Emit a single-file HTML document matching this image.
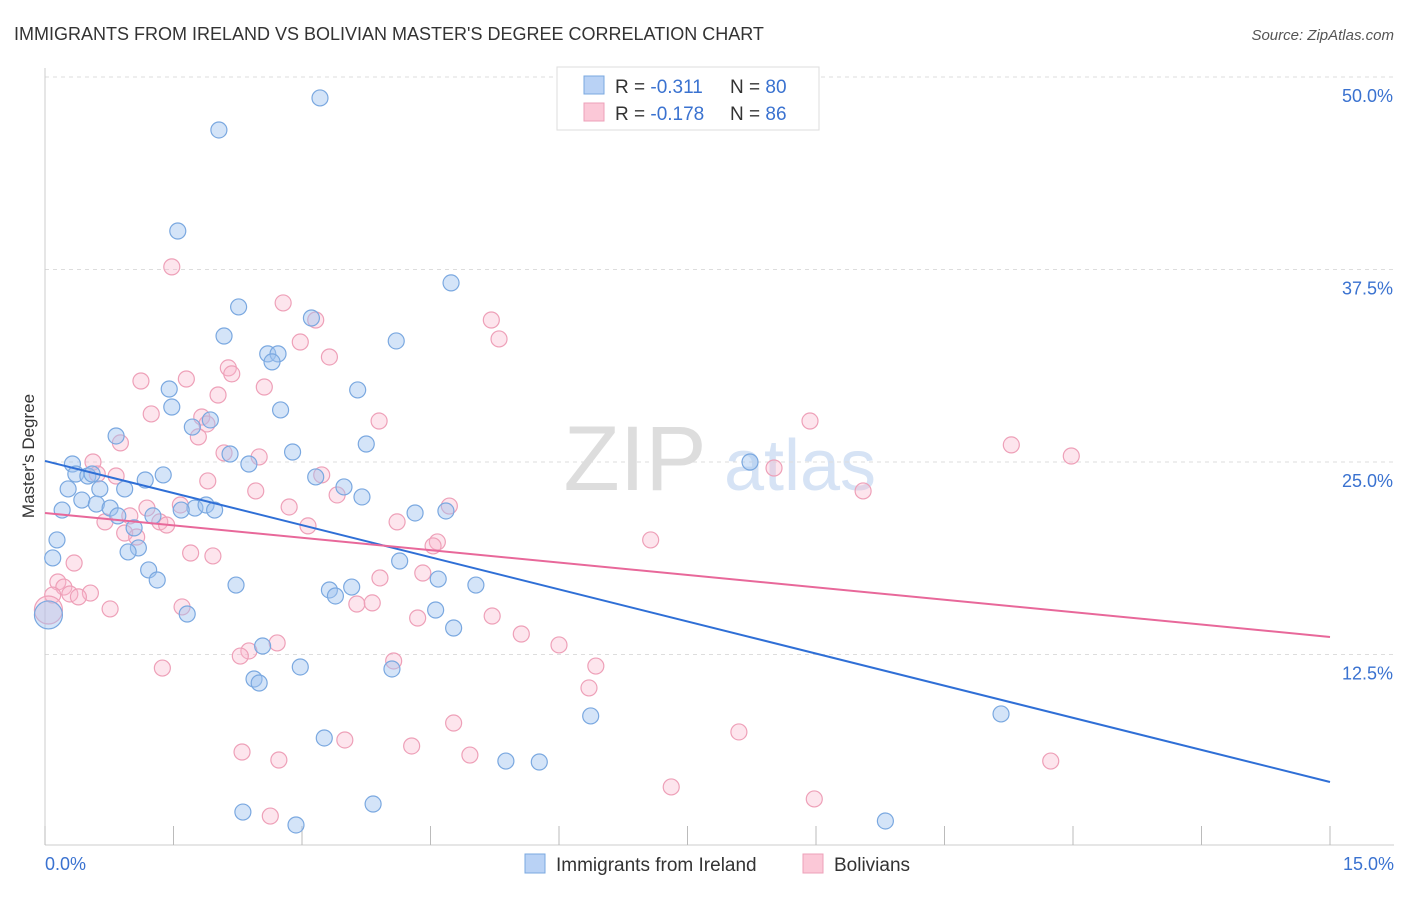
<!DOCTYPE html>
<html><head><meta charset="utf-8"><style>
body{margin:0;background:#fff;font-family:"Liberation Sans",sans-serif;}
svg text{font-family:"Liberation Sans",sans-serif;}
</style></head><body>
<svg id="chart" width="1406" height="892" xmlns="http://www.w3.org/2000/svg">
<text x="14" y="40" font-size="18" fill="#333">IMMIGRANTS FROM IRELAND VS BOLIVIAN MASTER'S DEGREE CORRELATION CHART</text>
<text x="1394" y="40" font-size="15" fill="#555" text-anchor="end" font-style="italic">Source: ZipAtlas.com</text>
<g>
<text x="635" y="490" font-size="92" fill="#ddd" text-anchor="middle" font-family="Liberation Serif">ZIP</text>
<text x="800" y="490" font-size="72" fill="#d6e3f5" text-anchor="middle">atlas</text>
</g>
<g id="grid"></g>
<g id="axes"></g>
<g id="marks"></g>
<text transform="translate(34,456) rotate(-90)" font-size="17" fill="#333" text-anchor="middle">Master's Degree</text>
<g>
<rect x="557" y="67" width="262" height="63" fill="#fff" stroke="#ddd"/>
<rect x="584" y="76" width="20" height="18" fill="#b9d2f5" stroke="#7aa8e0"/>
<rect x="584" y="103" width="20" height="18" fill="#fbc8d7" stroke="#eea0b8"/>
<text x="615" y="93" font-size="19" fill="#333">R = <tspan fill="#3a72d0">-0.311</tspan><tspan x="730">N = </tspan><tspan fill="#3a72d0">80</tspan></text>
<text x="615" y="120" font-size="19" fill="#333">R = <tspan fill="#3a72d0">-0.178</tspan><tspan x="730">N = </tspan><tspan fill="#3a72d0"> 86</tspan></text>
</g>
<g>
<rect x="525" y="854" width="20" height="19" fill="#b9d2f5" stroke="#7aa8e0"/>
<text x="556" y="871" font-size="19" fill="#333">Immigrants from Ireland</text>
<rect x="803" y="854" width="20" height="19" fill="#fbc8d7" stroke="#eea0b8"/>
<text x="834" y="871" font-size="19" fill="#333">Bolivians</text>
</g>
</svg>
<script>
const blueX=[3.21,2.03,1.55,4.74,2.26,2.09,3.11,4.10,2.60,2.72,2.65,1.45,3.65,1.48,2.75,1.93,1.72,0.83,3.75,2.16,2.89,2.38,0.32,0.36,0.50,0.55,1.17,1.38,8.23,0.27,0.64,0.93,3.16,3.49,3.70,0.43,0.60,0.76,0.20,1.75,1.88,1.98,1.59,1.26,0.85,4.32,4.68,1.04,0.14,0.09,1.09,0.97,1.21,4.14,1.31,2.23,3.32,3.58,3.39,4.59,5.03,4.56,1.66,4.77,2.54,2.98,4.05,2.44,2.50,6.37,11.16,3.26,5.38,5.77,3.83,2.31,2.93,9.81,0.04];
const blueY=[48.64,46.56,40.00,36.63,35.07,33.18,34.35,32.86,32.02,32.02,31.50,29.74,29.68,28.57,28.38,27.73,27.27,26.69,26.17,25.52,25.65,24.87,24.87,24.22,24.09,24.22,23.83,24.16,25.00,23.25,23.25,23.25,24.03,23.38,22.73,22.53,22.27,22.01,21.88,22.01,22.21,21.88,21.88,21.50,21.50,21.69,21.82,20.72,19.94,18.77,19.42,19.16,17.99,18.57,17.34,17.01,16.69,16.88,16.30,17.40,17.01,15.39,15.13,14.22,13.05,11.69,11.56,10.91,10.65,8.51,8.64,7.08,5.58,5.52,2.79,2.27,1.43,1.69,15.07];
const pinkX=[1.48,2.78,5.21,3.16,5.30,2.98,3.32,2.14,2.18,1.12,1.65,2.56,2.02,1.24,3.90,8.93,1.83,1.89,1.79,0.88,2.09,2.50,11.28,11.98,0.56,8.51,0.61,0.83,3.23,1.90,2.46,9.55,2.85,1.58,1.19,4.72,3.41,0.70,0.99,1.34,1.42,4.11,3.07,0.93,1.07,4.58,4.53,7.07,1.70,1.96,0.34,0.15,0.22,0.09,0.29,0.53,0.39,3.91,4.41,0.76,1.60,3.64,3.82,4.35,5.22,5.56,6.00,2.71,2.38,2.28,4.07,6.43,1.37,6.35,4.77,8.10,3.50,4.28,2.30,4.96,2.73,11.74,7.31,8.98,2.63,0.04];
const pinkY=[37.67,35.33,34.22,34.22,32.99,32.79,31.82,31.11,30.72,30.26,30.39,29.87,29.35,28.12,27.66,27.66,27.92,27.47,26.63,26.24,25.59,25.33,26.11,25.39,25.00,24.61,24.22,24.09,24.16,23.77,23.12,23.12,22.08,22.21,22.01,22.14,22.86,21.11,21.50,21.11,20.91,21.11,20.85,20.39,20.13,19.81,19.55,19.94,19.09,18.90,18.44,17.21,16.88,16.36,16.43,16.49,16.24,17.47,17.79,15.46,15.59,15.78,15.85,14.87,15.00,13.83,13.12,13.25,12.73,12.40,12.08,11.75,11.62,10.33,8.05,7.47,6.95,6.56,6.17,5.97,5.65,5.58,3.90,3.12,2.01,15.39];
const blueTrend=[25.07,4.22];
const pinkTrend=[21.69,13.64];
const yTicks=[12.5,25,37.5,50];
const yTickLabels=["12.5%","25.0%","37.5%","50.0%"];
const xTicks=[0,1.5,3,4.5,6,7.5,9,10.5,12,13.5,15];

const NS="http://www.w3.org/2000/svg";
const X0=45,X1=1330,YB=847,PXPER=192.5/12.5;
function sx(v){return X0+(v/15)*(X1-X0);}
function sy(v){return YB-v*PXPER;}
function mk(tag,attrs,parent){const e=document.createElementNS(NS,tag);for(const k in attrs)e.setAttribute(k,attrs[k]);parent.appendChild(e);return e;}
const grid=document.getElementById('grid'),axes=document.getElementById('axes'),marks=document.getElementById('marks');
yTicks.forEach((t,i)=>{
  const l=mk('line',{x1:X0,x2:1394,y1:sy(t),y2:sy(t),stroke:'#ddd','stroke-dasharray':'4,4'},grid);
  
  
  const tx=mk('text',{x:1393,y:sy(t)+25,'font-size':18,fill:'#3a72d0','text-anchor':'end'},axes);
  tx.textContent=yTickLabels[i];
  
  
});
const ax=mk('line',{x1:X0,x2:1394,y1:845,y2:845,stroke:'#ccc'},axes);


const ay=mk('line',{x1:X0,x2:X0,y1:68,y2:845,stroke:'#ccc'},axes);


xTicks.forEach(t=>{
  const l=mk('line',{x1:sx(t),x2:sx(t),y1:826,y2:845,stroke:'#bbb'},axes);
  
  
});
const xl0=mk('text',{x:45,y:870,'font-size':18,fill:'#3a72d0'},axes);xl0.textContent='0.0%';


const xl1=mk('text',{x:1394,y:870,'font-size':18,fill:'#3a72d0','text-anchor':'end'},axes);xl1.textContent='15.0%';



function pts(xs,ys,fill,stroke,name){
  xs.forEach((x,i)=>{
    const big=(i===xs.length-1);
    const c=mk('circle',{cx:sx(x),cy:sy(ys[i]),r:big?14:8,fill:fill,stroke:stroke,'stroke-width':1.2},marks);
    
    
  });
}
pts(pinkX,pinkY,'rgba(248,180,202,0.35)','#eea0b8','bolivians-point');
pts(blueX,blueY,'rgba(160,195,240,0.45)','#7aa8e0','ireland-point');
const bl=mk('line',{x1:sx(0),y1:sy(blueTrend[0]),x2:sx(15),y2:sy(blueTrend[1]),stroke:'#2f6fd6','stroke-width':2},marks);


const pl=mk('line',{x1:sx(0),y1:sy(pinkTrend[0]),x2:sx(15),y2:sy(pinkTrend[1]),stroke:'#e8689a','stroke-width':2},marks);


</script>
</body></html>
